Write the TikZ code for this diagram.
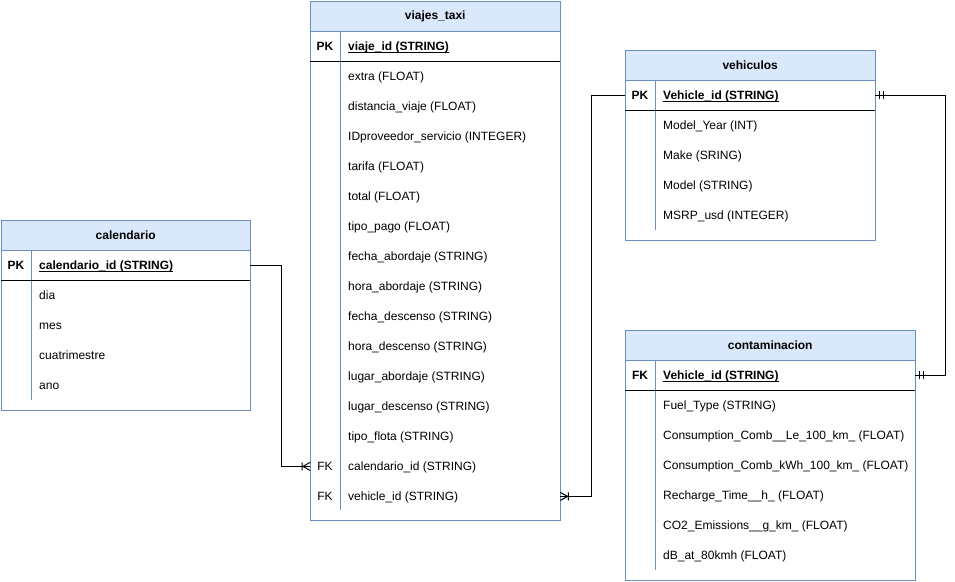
\documentclass[tikz,border=0pt]{standalone}
\usepackage{fontspec}
\setmainfont{Liberation Sans}
\usetikzlibrary{positioning, calc}
\definecolor{erstroke}{HTML}{6C8EBF}
\definecolor{erfill}{HTML}{DAE8FC}
\newcommand{\keyul}[1]{\underline{\smash{#1}}}

% ER end markers
\pgfdeclarearrow{
  name = MandOne,
  setup code = {
    \pgfarrowssettipend{0pt}
    \pgfarrowssetlineend{0pt}
    \pgfarrowssetbackend{-9pt}
    \pgfarrowshullpoint{0pt}{4pt}
    \pgfarrowshullpoint{-9pt}{4pt}
    \pgfarrowshullpoint{-9pt}{-4pt}
    \pgfarrowshullpoint{0pt}{-4pt}
  },
  drawing code = {
    \pgfpathmoveto{\pgfqpoint{-4pt}{4pt}}
    \pgfpathlineto{\pgfqpoint{-4pt}{-4pt}}
    \pgfpathmoveto{\pgfqpoint{-8pt}{4pt}}
    \pgfpathlineto{\pgfqpoint{-8pt}{-4pt}}
    \pgfusepathqstroke
  }
}
\pgfdeclarearrow{
  name = CrowMany,
  setup code = {
    \pgfarrowssettipend{0pt}
    \pgfarrowssetlineend{0pt}
    \pgfarrowssetbackend{-9pt}
    \pgfarrowshullpoint{0pt}{4pt}
    \pgfarrowshullpoint{-9pt}{4pt}
    \pgfarrowshullpoint{-9pt}{-4pt}
    \pgfarrowshullpoint{0pt}{-4pt}
  },
  drawing code = {
    \pgfpathmoveto{\pgfqpoint{-7pt}{0pt}}
    \pgfpathlineto{\pgfqpoint{0pt}{4pt}}
    \pgfpathmoveto{\pgfqpoint{-7pt}{0pt}}
    \pgfpathlineto{\pgfqpoint{0pt}{-4pt}}
    \pgfpathmoveto{\pgfqpoint{-8pt}{4pt}}
    \pgfpathlineto{\pgfqpoint{-8pt}{-4pt}}
    \pgfusepathqstroke
  }
}

\begin{document}
\begin{tikzpicture}[x=1pt, y=-1pt, font=\fontsize{12}{14}\selectfont,
  tbl/.style={draw=erstroke, fill=white, anchor=north west, inner sep=0pt},
  tblhead/.style={draw=erstroke, fill=erfill, anchor=north west, inner sep=0pt, minimum height=30pt, font=\fontsize{12}{14}\selectfont\bfseries},
  field/.style={anchor=west, inner sep=0pt, text height=10.9pt, text depth=2.5pt},
  keyfield/.style={field, font=\fontsize{12}{14}\selectfont\bfseries},
  keytag/.style={inner sep=0pt, text height=10.9pt, text depth=2.5pt, font=\fontsize{12}{14}\selectfont\bfseries},
  divider/.style={draw=erstroke},
  rel/.style={draw=black, line width=1pt}
]
  \useasboundingbox (0,0) rectangle (955,581);

  % calendario
  \node[tbl, minimum width=249pt, minimum height=190pt] (cal) at (1,220) {};
  \node[tblhead, minimum width=249pt] (cal-head) at (cal.north west) {calendario};
  \draw[divider] ($(cal-head.south west)+(30,0)$) -- ($(cal.south west)+(30,-10)$);
  \draw ($(cal-head.south west)+(0,30)$) -- ($(cal-head.south east)+(0,30)$);
  \node[keytag] at ($(cal-head.south west)+(15,15)$) {PK};
  \node[keyfield] (cal-pk) at ($(cal-head.south west)+(38,15)$) {\keyul{calendario\_id (STRING)}};
  \foreach \f [count=\i] in {dia, mes, cuatrimestre, ano}
    \node[field] (cal-\i) at ($(cal-head.south west)+(38,15+30*\i)$) {\f};

  % viajes_taxi
  \node[tbl, minimum width=250pt, minimum height=519pt] (vt) at (310,1) {};
  \node[tblhead, minimum width=250pt] (vt-head) at (vt.north west) {viajes\_taxi};
  \draw[divider] ($(vt-head.south west)+(30,0)$) -- ($(vt.south west)+(30,-10)$);
  \draw ($(vt-head.south west)+(0,30)$) -- ($(vt-head.south east)+(0,30)$);
  \node[keytag] at ($(vt-head.south west)+(15,15)$) {PK};
  \node[keyfield] (vt-pk) at ($(vt-head.south west)+(38,15)$) {\keyul{viaje\_id (STRING)}};
  \foreach \f [count=\i] in {extra (FLOAT), distancia\_viaje (FLOAT), IDproveedor\_servicio (INTEGER),
      tarifa (FLOAT), total (FLOAT), tipo\_pago (FLOAT), fecha\_abordaje (STRING), hora\_abordaje (STRING),
      fecha\_descenso (STRING), hora\_descenso (STRING), lugar\_abordaje (STRING), lugar\_descenso (STRING),
      tipo\_flota (STRING), calendario\_id (STRING), vehicle\_id (STRING)}
    \node[field] (vt-\i) at ($(vt-head.south west)+(38,15+30*\i)$) {\f};
  \foreach \i in {14, 15}
    \node[keytag, font=\fontsize{12}{14}\selectfont] at ($(vt-head.south west)+(15,15+30*\i)$) {FK};

  % vehiculos
  \node[tbl, minimum width=250pt, minimum height=190pt] (veh) at (625,50) {};
  \node[tblhead, minimum width=250pt] (veh-head) at (veh.north west) {vehiculos};
  \draw[divider] ($(veh-head.south west)+(30,0)$) -- ($(veh.south west)+(30,-10)$);
  \draw ($(veh-head.south west)+(0,30)$) -- ($(veh-head.south east)+(0,30)$);
  \node[keytag] at ($(veh-head.south west)+(15,15)$) {PK};
  \node[keyfield] (veh-pk) at ($(veh-head.south west)+(38,15)$) {\keyul{Vehicle\_id (STRING)}};
  \foreach \f [count=\i] in {Model\_Year (INT), Make (SRING), Model (STRING), MSRP\_usd (INTEGER)}
    \node[field] (veh-\i) at ($(veh-head.south west)+(38,15+30*\i)$) {\f};

  % contaminacion
  \node[tbl, minimum width=290pt, minimum height=250pt] (con) at (625,330) {};
  \node[tblhead, minimum width=290pt] (con-head) at (con.north west) {contaminacion};
  \draw[divider] ($(con-head.south west)+(30,0)$) -- ($(con.south west)+(30,-10)$);
  \draw ($(con-head.south west)+(0,30)$) -- ($(con-head.south east)+(0,30)$);
  \node[keytag] at ($(con-head.south west)+(15,15)$) {FK};
  \node[keyfield] (con-fk) at ($(con-head.south west)+(38,15)$) {\keyul{Vehicle\_id (STRING)}};
  \foreach \f [count=\i] in {Fuel\_Type (STRING), Consumption\_Comb\_\_Le\_100\_km\_ (FLOAT),
      Consumption\_Comb\_kWh\_100\_km\_ (FLOAT), Recharge\_Time\_\_h\_ (FLOAT),
      CO2\_Emissions\_\_g\_km\_ (FLOAT), dB\_at\_80kmh (FLOAT)}
    \node[field] (con-\i) at ($(con-head.south west)+(38,15+30*\i)$) {\f};

  % relations
  \draw[rel, -{CrowMany}] (cal-pk.west -| cal.east) -- ++(31,0) |- (vt-14.west -| vt.west);
  \draw[rel, -{CrowMany}] (veh-pk.west -| veh.west) -- ++(-34,0) |- (vt-15.west -| vt.east);
  \draw[rel, {MandOne}-{MandOne}] (veh-pk.west -| veh.east) -- ++(70,0) |- (con-fk.west -| con.east);
\end{tikzpicture}
\end{document}
